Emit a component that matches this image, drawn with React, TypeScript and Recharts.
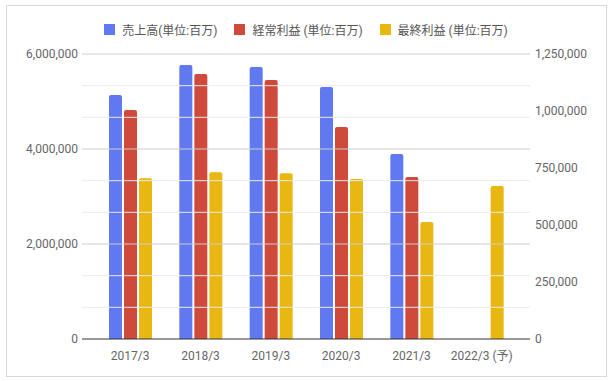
import { Bar, BarChart, ReferenceLine, XAxis, YAxis } from "recharts";

const YEARS = ["2017/3", "2018/3", "2019/3", "2020/3", "2021/3", "2022/3 (予)"];
const SALES = [5137000, 5768000, 5726000, 5305000, 3895000, null];
const ORDINARY = [1004000, 1162000, 1136000, 930000, 711000, null];
const NET = [705000, 731000, 727000, 702000, 513000, 671000];

const LEFT_TICKS = [0, 2000000, 4000000, 6000000];
const RIGHT_TICKS = [0, 250000, 500000, 750000, 1000000, 1250000];

const SERIES = [
  { key: "sales", name: "売上高(単位:百万)", color: "#6079f0", axis: "left" },
  { key: "ordinary", name: "経常利益 (単位:百万)", color: "#d04a3c", axis: "right" },
  { key: "net", name: "最終利益 (単位:百万)", color: "#e8b711", axis: "right" },
];

const FONT = "Roboto, 'Noto Sans CJK JP', sans-serif";

const data = YEARS.map((year, i) => ({
  year,
  sales: SALES[i],
  ordinary: ORDINARY[i],
  net: NET[i],
}));

// light lines every third of a major step, darker on the labelled ticks
const gridLines = [];
for (let i = 1; i < LEFT_TICKS.length; i++) {
  const lo = LEFT_TICKS[i - 1];
  const step = (LEFT_TICKS[i] - lo) / 3;
  gridLines.push({ v: lo + step, major: false });
  gridLines.push({ v: lo + step * 2, major: false });
  gridLines.push({ v: LEFT_TICKS[i], major: true });
}

const fmt = (v: number) => v.toLocaleString("en-US");

function ChartLegend() {
  return (
    <div
      style={{
        position: "absolute",
        top: 21,
        left: 0,
        width: 612,
        display: "flex",
        justifyContent: "center",
        fontFamily: FONT,
        fontSize: 12,
        color: "#555",
      }}
    >
      {SERIES.map((s, i) => (
        <div key={s.key} style={{ display: "flex", alignItems: "center", marginLeft: i ? 17 : 0 }}>
          <span style={{ width: 11, height: 11, background: s.color, display: "inline-block", marginRight: 7 }} />
          <span>{s.name}</span>
        </div>
      ))}
    </div>
  );
}

export default function App() {
  return (
    <div style={{ position: "absolute", left: 0, top: 0, width: 612, height: 381, background: "#fff" }}>
      <div
        style={{
          position: "absolute",
          left: 6,
          top: 5,
          width: 601,
          height: 372,
          border: "1px solid #d9d9d9",
          boxSizing: "border-box",
        }}
      />
      <div style={{ position: "absolute", left: 0, top: 0 }}>
        <BarChart
          width={612}
          height={381}
          data={data}
          margin={{ top: 54, right: 0, bottom: 12, left: 0 }}
          barSize={13}
          barGap={2}
        >
          {gridLines.map((g) => (
            <ReferenceLine
              key={g.v}
              yAxisId="left"
              y={g.v}
              stroke={g.major ? "#cccccc" : "#ebebeb"}
              strokeWidth={1}
            />
          ))}
          <XAxis
            dataKey="year"
            padding={{ left: 13, right: 13 }}
            axisLine={{ stroke: "#333" }}
            tickLine={false}
            tickMargin={6}
            height={30}
            interval={0}
            tick={{ fill: "#666", fontSize: 12, fontFamily: FONT }}
          />
          <YAxis
            yAxisId="left"
            orientation="left"
            width={82}
            domain={[0, 6000000]}
            ticks={LEFT_TICKS}
            tickFormatter={fmt}
            axisLine={false}
            tickLine={false}
            tickMargin={0}
            tick={{ fill: "#666", fontSize: 12, fontFamily: FONT, dx: 2 }}
          />
          <YAxis
            yAxisId="right"
            orientation="right"
            width={82}
            domain={[0, 1250000]}
            ticks={RIGHT_TICKS}
            tickFormatter={fmt}
            axisLine={false}
            tickLine={false}
            tickMargin={0}
            tick={{ fill: "#666", fontSize: 12, fontFamily: FONT, dx: -1 }}
          />
          {SERIES.map((s) => (
            <Bar
              key={s.key}
              dataKey={s.key}
              name={s.name}
              yAxisId={s.axis}
              fill={s.color}
              radius={[2, 2, 0, 0]}
              isAnimationActive={false}
            />
          ))}
        </BarChart>
      </div>
      <ChartLegend />
    </div>
  );
}
